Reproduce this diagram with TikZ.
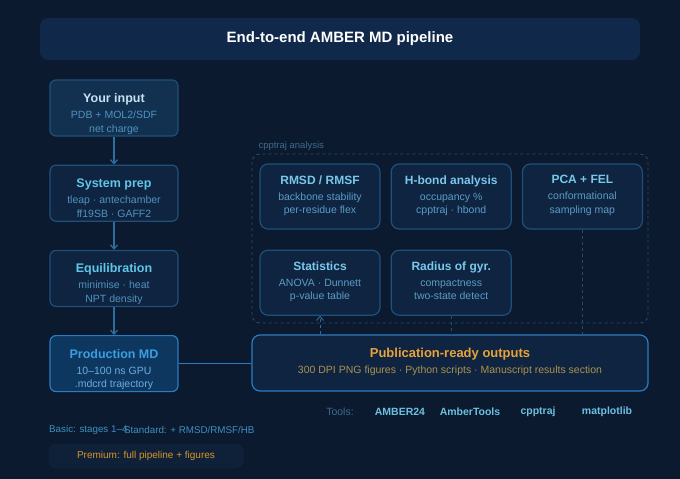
\documentclass[tikz,border=0pt]{standalone}
\usepackage{fontspec}
\setmainfont{Liberation Sans}
\usetikzlibrary{arrows.meta, positioning}

\definecolor{bgnavy}{HTML}{0B1A2E}
\definecolor{headfill}{HTML}{10284A}
\definecolor{boxfill}{HTML}{0F2440}
\definecolor{boxline}{HTML}{1F5079}
\definecolor{inputfill}{HTML}{12304F}
\definecolor{prodfill}{HTML}{0E3760}
\definecolor{prodline}{HTML}{2B7CC0}
\definecolor{stagetitle}{HTML}{5FC6E8}
\definecolor{stagetext}{HTML}{4F93BE}
\definecolor{prodtext}{HTML}{6AAEE0}
\definecolor{anatitle}{HTML}{78C8EA}
\definecolor{anatext}{HTML}{5A9CC6}
\definecolor{outtitle}{HTML}{E8A23A}
\definecolor{outtext}{HTML}{AA9250}
\definecolor{dashline}{HTML}{264B6C}
\definecolor{flowline}{HTML}{2E6E9E}
\definecolor{toolname}{HTML}{6CC0E0}
\definecolor{toollabel}{HTML}{3F6A8E}
\definecolor{tiertext}{HTML}{3F8FC0}
\definecolor{premfill}{HTML}{0F2139}
\definecolor{premtext}{HTML}{D8952A}

\begin{document}
\begin{tikzpicture}[x=1pt, y=-1pt,
  stage/.style={rectangle, draw=boxline, fill=boxfill, line width=1.2pt, rounded corners=6pt,
    minimum width=128pt, minimum height=56pt, align=center, inner sep=0pt,
    font=\fontsize{10.5}{13.5}\selectfont, text=stagetext,
    execute at end node={\rule[-3pt]{0pt}{3pt}}},
  ana/.style={rectangle, draw=boxline, fill=boxfill, line width=1.2pt, rounded corners=8pt,
    minimum width=120pt, minimum height=65pt, align=center, inner sep=0pt,
    font=\fontsize{10.5}{13.5}\selectfont, text=anatext,
    execute at end node={\rule[-4pt]{0pt}{4pt}}},
  flow/.style={draw=flowline, line width=1.2pt, -{Straight Barb[length=4pt, width=7pt]}},
  guide/.style={draw=dashline, line width=0.9pt, dash pattern=on 3pt off 3pt},
  tool/.style={font=\fontsize{10.5}{12}\selectfont\bfseries, text=toolname}
]
  \useasboundingbox[fill=bgnavy] (0,0) rectangle (680,479);

  % header
  \node[rectangle, fill=headfill, rounded corners=8pt, minimum width=600pt, minimum height=42pt,
    font=\fontsize{15}{18}\selectfont\bfseries, text=white] (head) at (340,39) {\raisebox{-1pt}{End-to-end AMBER MD pipeline}};

  % pipeline stages
  \node[stage, fill=inputfill] (input) at (114,108)
    {\rule{0pt}{21.5pt}{\fontsize{12.5}{14}\selectfont\bfseries\color[HTML]{C4E2F4}Your input}\\[2.5pt] PDB + MOL2/SDF\\ net charge};
  \node[stage, below=28pt of input] (prep)
    {\rule{0pt}{21.5pt}{\fontsize{12.5}{14}\selectfont\bfseries\color{stagetitle}System prep}\\[2.5pt] tleap · antechamber\\ ff19SB · GAFF2};
  \node[stage, below=28pt of prep] (equil)
    {\rule{0pt}{21.5pt}{\fontsize{12.5}{14}\selectfont\bfseries\color{stagetitle}Equilibration}\\[2.5pt] minimise · heat\\ NPT density};
  \node[stage, fill=prodfill, draw=prodline, below=28pt of equil, text=prodtext] (prod)
    {\rule{0pt}{21.5pt}{\fontsize{12.5}{14}\selectfont\bfseries\color[HTML]{3A9EE0}Production MD}\\[2.5pt] 10–100 ns GPU\\ .mdcrd trajectory};

  \draw[flow] (input) -- (prep);
  \draw[flow] (prep) -- (equil);
  \draw[flow] (equil) -- (prod);

  % cpptraj analysis group
  \node[anchor=base west, font=\fontsize{9.5}{11}\selectfont, text=toollabel] (grouplabel) at (255,148) {cpptraj analysis};
  \draw[guide, rounded corners=8pt] (252,154) rectangle (648,323);

  \node[ana] (rmsd) at (320,196.5)
    {{\fontsize{12}{14}\selectfont\bfseries\color{anatitle}RMSD / RMSF}\\[2.5pt] backbone stability\\ per-residue flex};
  \node[ana, right=10pt of rmsd] (hbond)
    {{\fontsize{12}{14}\selectfont\bfseries\color{anatitle}H-bond analysis}\\[2.5pt] occupancy \%\\ cpptraj · hbond};
  \node[ana, right=10pt of hbond] (pca)
    {{\fontsize{12}{14}\selectfont\bfseries\color{anatitle}PCA + FEL}\\[2.5pt] conformational\\ sampling map};
  \node[ana, below=20pt of rmsd] (stats)
    {{\fontsize{12}{14}\selectfont\bfseries\color{anatitle}Statistics}\\[2.5pt] ANOVA · Dunnett\\ p-value table};
  \node[ana, right=10pt of stats] (rgyr)
    {{\fontsize{12}{14}\selectfont\bfseries\color{anatitle}Radius of gyr.}\\[2.5pt] compactness\\ two-state detect};

  % outputs
  \node[rectangle, draw=prodline, fill=boxfill, line width=1.2pt, rounded corners=8pt,
    minimum width=396pt, minimum height=56pt, align=center, inner sep=0pt,
    font=\fontsize{10.5}{14}\selectfont, text=outtext] (outputs) at (450,363)
    {\rule{0pt}{9.5pt}{\fontsize{13}{14}\selectfont\bfseries\color{outtitle}Publication-ready outputs}\\[2.5pt]
     300 DPI PNG figures · Python scripts · Manuscript results section\rule[-5pt]{0pt}{5pt}};

  \draw[draw=prodline, line width=1.2pt] (prod.east) -- (prod.east -| outputs.west);
  \draw[guide, draw=flowline, -{Straight Barb[length=4pt, width=7pt]}] (outputs.north -| stats) -- (stats.south);
  \draw[guide] (rgyr.south) -- (rgyr.south |- outputs.north);
  \draw[guide] (pca.south) -- (pca.south |- outputs.north);

  % tools
  \node[font=\fontsize{10.5}{12}\selectfont, text=toollabel] (toolslabel) at (340,412) {Tools:};
  \node[tool] (amber) at (400,412) {AMBER24};
  \node[tool] (ambertools) at (470,412) {AmberTools};
  \node[tool] (cpptraj) at (538,412) {cpptraj};
  \node[tool] (mpl) at (607,412) {matplotlib};

  % service tiers
  \node[anchor=west, inner sep=0pt, font=\fontsize{9.8}{12}\selectfont, text=tiertext] (basic) at (49,430) {Basic: stages 1–4};
  \node[anchor=west, inner sep=0pt, font=\fontsize{9.8}{12}\selectfont, text=tiertext] (standard) at (124,430) {Standard: + RMSD/RMSF/HB};
  \node[rectangle, fill=premfill, rounded corners=8pt, minimum width=195pt, minimum height=25pt,
    font=\fontsize{10}{12}\selectfont, text=premtext] (premium) at (146,456) {Premium: full pipeline + figures};
\end{tikzpicture}
\end{document}
